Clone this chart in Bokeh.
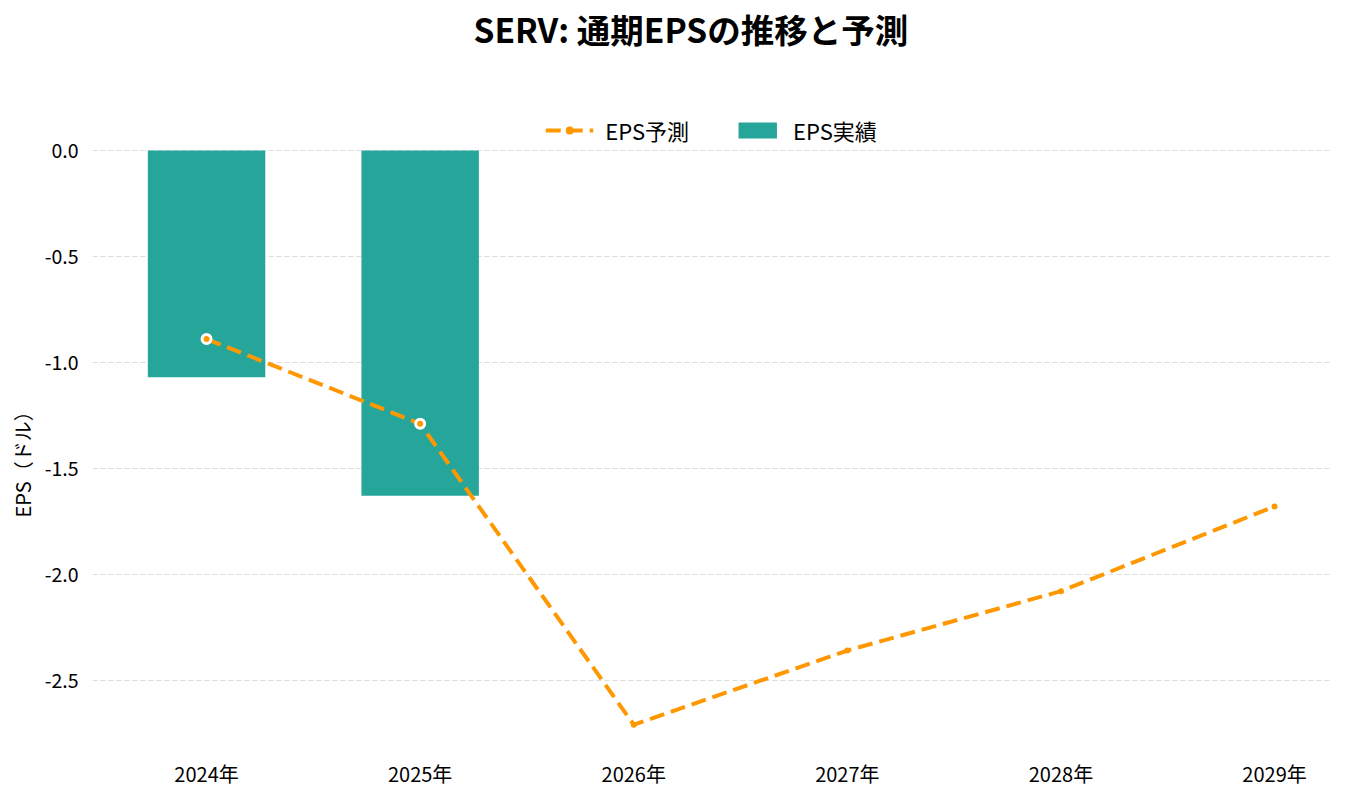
from bokeh.plotting import figure
from bokeh.models import (ColumnDataSource, Legend, LegendItem, FixedTicker,
                          NumeralTickFormatter, Range1d, Title)
from bokeh.embed import file_html
from bokeh.resources import INLINE

# ---- data ----
years = ["2024年", "2025年", "2026年", "2027年", "2028年", "2029年"]
eps_actual = [-1.07, -1.63]           # 2024, 2025
eps_forecast = [-0.89, -1.29, -2.71, -2.36, -2.08, -1.68]
y_ticks = [0.0, -0.5, -1.0, -1.5, -2.0, -2.5]

TEAL = "#26A69A"
ORANGE = "#FF9800"
FONT = "Noto Sans CJK JP"

x_all = list(range(len(years)))
n_act = len(eps_actual)

bar_src = ColumnDataSource(dict(x=x_all[:n_act], top=[0.0] * n_act, bottom=eps_actual))
line_src = ColumnDataSource(dict(x=x_all, y=eps_forecast))
act_pt_src = ColumnDataSource(dict(x=x_all[:n_act], y=eps_forecast[:n_act]))
fc_pt_src = ColumnDataSource(dict(x=x_all[n_act:], y=eps_forecast[n_act:]))

p = figure(width=1338, height=798, output_backend="svg", toolbar_location=None,
           x_range=Range1d(-0.534, 5.262), y_range=Range1d(-2.846, 0.4575),
           min_border_left=90, min_border_right=8, min_border_top=53,
           min_border_bottom=45)

p.title.text = "SERV: 通期EPSの推移と予測"
p.title.align = "left"
p.title.offset = 381
p.title.vertical_align = "bottom"
p.title.text_font = FONT
p.title.text_font_size = "33.5px"
p.title.text_font_style = "bold"
p.title.text_color = "#000000"
p.title.standoff = 2

p.outline_line_color = None
p.background_fill_color = "white"

bars = p.vbar(x="x", top="top", bottom="bottom", width=0.55, source=bar_src,
              fill_color=TEAL, line_color=None)
line = p.line(x="x", y="y", source=line_src, line_color=ORANGE, line_width=4,
              line_dash="15 7")
act_pts = p.scatter(x="x", y="y", source=act_pt_src, size=9, fill_color=ORANGE,
                    line_color="white", line_width=3)
fc_pts = p.scatter(x="x", y="y", source=fc_pt_src, size=6, fill_color=ORANGE,
                   line_color=None)

# axes
p.xaxis.ticker = FixedTicker(ticks=x_all)
p.xaxis.major_label_overrides = {i: y for i, y in enumerate(years)}
p.yaxis.ticker = FixedTicker(ticks=y_ticks)
p.yaxis.formatter = NumeralTickFormatter(format="0.0")
for ax in (p.xaxis, p.yaxis):
    ax.axis_line_color = None
    ax.major_tick_line_color = None
    ax.minor_tick_line_color = None
    ax.major_label_text_font = FONT
    ax.major_label_text_color = "#000000"
p.xaxis.major_label_text_font_size = "20px"
p.yaxis.major_label_text_font_size = "19.5px"
p.xaxis.major_label_standoff = -1
p.yaxis.major_label_standoff = 8

# y-axis title, placed to the left of the tick labels
ytitle = Title(text="EPS（ドル）", align="left", offset=236, standoff=10,
               text_font=FONT, text_font_size="20px", text_font_style="normal",
               text_color="#000000")
p.add_layout(ytitle, "left")

p.xgrid.grid_line_color = None
p.ygrid.grid_line_color = "#dddddd"
p.ygrid.grid_line_dash = "5 3"
p.ygrid.grid_line_width = 1.2

legend = Legend(items=[
    LegendItem(label="EPS予測", renderers=[line, fc_pts]),
    LegendItem(label="EPS実績", renderers=[bars]),
], orientation="horizontal", location="top_center",
    label_text_font=FONT, label_text_font_size="22px", label_text_color="#000000",
    glyph_width=48, glyph_height=20, label_standoff=12, spacing=44,
    padding=6, margin=61, border_line_color=None, background_fill_alpha=0)
p.add_layout(legend)

open("out.html", "w").write(file_html(p, INLINE))
